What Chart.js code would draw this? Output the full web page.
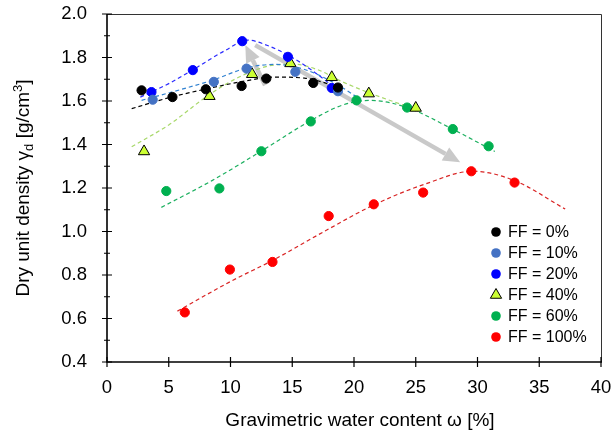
<!DOCTYPE html>
<html>
<head>
<meta charset="utf-8">
<script src="https://cdn.jsdelivr.net/npm/chart.js@4.4.0/dist/chart.umd.min.js"></script>
<style>
  html, body { margin: 0; padding: 0; background: #fff; }
  #wrap { width: 616px; height: 435px; }
</style>
</head>
<body>
<div id="wrap"><canvas id="densityChart" width="616" height="435"></canvas></div>
<script>
// measured points: water content w [%] and dry density [g/cm3]
const ff0W = [2.8, 5.3, 8.0, 10.9, 12.9, 16.7, 18.7];
const ff0D = [1.649, 1.618, 1.654, 1.669, 1.703, 1.683, 1.662];
const ff10W = [3.7, 8.65, 11.3, 15.25, 18.7];
const ff10D = [1.606, 1.688, 1.749, 1.734, 1.645];
const ff20W = [3.6, 6.95, 10.95, 14.65, 18.2];
const ff20D = [1.641, 1.742, 1.875, 1.803, 1.660];
const ff40W = [3.0, 8.3, 11.75, 14.85, 18.2, 21.2, 25.0];
const ff40D = [1.368, 1.622, 1.723, 1.773, 1.709, 1.634, 1.568];
const ff60W = [4.8, 9.1, 12.5, 16.5, 20.2, 24.3, 28.0, 30.9];
const ff60D = [1.186, 1.198, 1.369, 1.506, 1.603, 1.570, 1.471, 1.392];
const ff100W = [6.3, 9.95, 13.4, 17.95, 21.6, 25.6, 29.5, 33.0];
const ff100D = [0.628, 0.825, 0.860, 1.071, 1.125, 1.179, 1.277, 1.225];

// dashed trend curves
const fit0W = [2.0, 5.0, 8.0, 11.0, 13.5, 16.0, 19.0];
const fit0D = [1.565, 1.615, 1.655, 1.690, 1.710, 1.705, 1.660];
const fit10W = [2.8, 5.5, 8.5, 11.5, 13.6, 16.0, 18.5, 20.4];
const fit10D = [1.603, 1.645, 1.695, 1.755, 1.768, 1.745, 1.680, 1.612];
const fit20W = [2.7, 5.0, 7.0, 9.5, 11.4, 13.0, 14.7, 16.5, 18.2];
const fit20D = [1.618, 1.680, 1.745, 1.830, 1.880, 1.855, 1.810, 1.745, 1.672];
const fit40W = [2.0, 5.0, 8.3, 10.7, 13.0, 15.0, 17.0, 19.0, 21.2, 24.4, 25.2];
const fit40D = [1.390, 1.490, 1.630, 1.710, 1.760, 1.770, 1.745, 1.690, 1.638, 1.572, 1.553];
const fit60W = [4.4, 8.5, 12.5, 16.5, 19.0, 21.3, 24.3, 28.0, 31.4];
const fit60D = [1.111, 1.234, 1.370, 1.510, 1.580, 1.603, 1.570, 1.470, 1.368];
const fit100W = [5.7, 10.0, 13.5, 17.9, 21.6, 25.8, 29.6, 33.0, 37.1];
const fit100D = [0.634, 0.770, 0.870, 1.010, 1.122, 1.219, 1.277, 1.234, 1.103];

// grey arrows [w1, d1, w2, d2]
const arrows = [
  [12.8, 1.672, 11.2, 1.857],
  [12.0, 1.857, 28.6, 1.318]
];

const legendLabels = ["FF = 0%", "FF = 10%", "FF = 20%", "FF = 40%", "FF = 60%", "FF = 100%"];
const pointColors = ["#000000", "#4472C4", "#0000FF", "#CCFF33", "#00B050", "#FF0000"];
const lineColors = ["#000000", "#2F80D0", "#2B2BFF", "#A8D86A", "#1DB060", "#D92424"];

function pts(ws, ds) {
  const out = [];
  for (let i = 0; i < ws.length; i++) out.push({ x: ws[i], y: ds[i] });
  return out;
}

const measured = [[ff0W, ff0D], [ff10W, ff10D], [ff20W, ff20D], [ff40W, ff40D], [ff60W, ff60D], [ff100W, ff100D]];
const fits = [[fit0W, fit0D], [fit10W, fit10D], [fit20W, fit20D], [fit40W, fit40D], [fit60W, fit60D], [fit100W, fit100D]];

const datasets = [];
for (let i = 0; i < measured.length; i++) {
  const tri = i === 3;
  datasets.push({
    label: legendLabels[i],
    data: pts(measured[i][0], measured[i][1]),
    pointStyle: tri ? "triangle" : "circle",
    pointRadius: tri ? 6.5 : 4.6,
    pointBackgroundColor: pointColors[i],
    pointBorderColor: tri ? "#000" : pointColors[i],
    pointBorderWidth: 1,
    showLine: false,
    order: 1
  });
}
for (let i = 0; i < fits.length; i++) {
  datasets.push({
    label: "fit",
    data: pts(fits[i][0], fits[i][1]),
    showLine: true,
    borderColor: lineColors[i],
    borderWidth: 1.2,
    borderDash: [4, 3],
    pointRadius: 0,
    cubicInterpolationMode: "monotone",
    order: 5
  });
}

const FONT = "'Liberation Sans', Arial, sans-serif";

function drawArrow(ctx, x1, y1, x2, y2) {
  const ang = Math.atan2(y2 - y1, x2 - x1);
  const head = 17, half = 7.5;
  const bx = x2 - Math.cos(ang) * head, by = y2 - Math.sin(ang) * head;
  ctx.strokeStyle = "#C9C9C9";
  ctx.fillStyle = "#C9C9C9";
  ctx.lineWidth = 4.5;
  ctx.beginPath();
  ctx.moveTo(x1, y1);
  ctx.lineTo(bx, by);
  ctx.stroke();
  ctx.beginPath();
  ctx.moveTo(x2, y2);
  ctx.lineTo(bx + Math.sin(ang) * half, by - Math.cos(ang) * half);
  ctx.lineTo(bx - Math.sin(ang) * half, by + Math.cos(ang) * half);
  ctx.closePath();
  ctx.fill();
}

// scales keep no extra label padding, so the plot box sits where the layout says
function noPad(s) {
  s.paddingTop = 0;
  s.paddingBottom = 0;
  s.paddingLeft = 0;
  s.paddingRight = 0;
}

const framePlugin = {
  id: "frame",
  beforeDatasetsDraw(chart) {
    const ctx = chart.ctx, xs = chart.scales.x, ys = chart.scales.y;
    ctx.save();
    arrows.forEach(a => {
      drawArrow(ctx, xs.getPixelForValue(a[0]), ys.getPixelForValue(a[1]),
        xs.getPixelForValue(a[2]), ys.getPixelForValue(a[3]));
    });
    ctx.restore();
  },
  afterDraw(chart) {
    const ctx = chart.ctx, xs = chart.scales.x, ys = chart.scales.y;
    const a = chart.chartArea;
    ctx.save();
    // box
    ctx.strokeStyle = "#333";
    ctx.lineWidth = 1;
    ctx.beginPath();
    ctx.moveTo(a.left, a.top + 0.5);
    ctx.lineTo(a.right + 0.5, a.top + 0.5);
    ctx.lineTo(a.right + 0.5, a.bottom);
    ctx.stroke();
    ctx.strokeStyle = "#000";
    ctx.lineWidth = 1.6;
    ctx.beginPath();
    ctx.moveTo(a.left, a.top);
    ctx.lineTo(a.left, a.bottom);
    ctx.lineTo(a.right + 1, a.bottom);
    ctx.stroke();
    // ticks crossing the axes
    ctx.lineWidth = 1.2;
    ctx.beginPath();
    xs.ticks.forEach(t => {
      const px = xs.getPixelForValue(t.value);
      ctx.moveTo(px, a.bottom - 5);
      ctx.lineTo(px, a.bottom + 5);
    });
    for (let i = 0; i < ys.ticks.length; i++) {
      const py = ys.getPixelForValue(ys.ticks[i].value);
      ctx.moveTo(a.left - 5, py);
      ctx.lineTo(a.left + 5, py);
      if (i < ys.ticks.length - 1) {
        const pm = ys.getPixelForValue((ys.ticks[i].value + ys.ticks[i + 1].value) / 2);
        ctx.moveTo(a.left - 3, pm);
        ctx.lineTo(a.left + 3, pm);
      }
    }
    ctx.stroke();

    // axis titles
    ctx.fillStyle = "#000";
    ctx.font = "19px " + FONT;
    ctx.textAlign = "center";
    ctx.textBaseline = "alphabetic";
    ctx.fillText("Gravimetric water content \u03C9 [%]", 360, 425.5);

    const parts = [
      ["Dry unit density \u03B3", 19, 0],
      ["d", 13, 4],
      [" [g/cm", 19, 0],
      ["3", 13, -7],
      ["]", 19, 0]
    ];
    let total = 0;
    parts.forEach(p => { ctx.font = p[1] + "px " + FONT; total += ctx.measureText(p[0]).width; });
    ctx.translate(29, (a.top + a.bottom) / 2);
    ctx.rotate(-Math.PI / 2);
    ctx.textAlign = "left";
    let cx = -total / 2;
    parts.forEach(p => {
      ctx.font = p[1] + "px " + FONT;
      ctx.fillText(p[0], cx, p[2]);
      cx += ctx.measureText(p[0]).width;
    });
    ctx.setTransform(1, 0, 0, 1, 0, 0);

    // legend
    ctx.font = "16px " + FONT;
    ctx.textAlign = "left";
    ctx.textBaseline = "middle";
    for (let i = 0; i < legendLabels.length; i++) {
      const ly = 232 + i * 21;
      ctx.fillStyle = pointColors[i];
      ctx.beginPath();
      if (i === 3) {
        const r = 6.5;
        ctx.moveTo(496, ly - r);
        ctx.lineTo(496 + r * 0.866, ly + r / 2);
        ctx.lineTo(496 - r * 0.866, ly + r / 2);
        ctx.closePath();
        ctx.fill();
        ctx.strokeStyle = "#000";
        ctx.lineWidth = 1;
        ctx.stroke();
      } else {
        ctx.arc(496, ly, 4.8, 0, Math.PI * 2);
        ctx.fill();
      }
      ctx.fillStyle = "#000";
      ctx.fillText(legendLabels[i], 508, ly + 1);
    }
    ctx.restore();
  }
};

new Chart(document.getElementById("densityChart"), {
  type: "scatter",
  data: { datasets: datasets },
  options: {
    responsive: false,
    animation: false,
    devicePixelRatio: 1,
    layout: { padding: { left: 0, top: 14, right: 15, bottom: 0 } },
    plugins: { legend: { display: false }, tooltip: { enabled: false } },
    scales: {
      x: {
        type: "linear",
        min: 0,
        max: 40,
        grid: { display: false },
        border: { display: false },
        ticks: { stepSize: 5, color: "#000", font: { family: FONT, size: 18.5 }, padding: 7 },
        afterFit(s) { s.height = 73; noPad(s); }
      },
      y: {
        type: "linear",
        min: 0.4,
        max: 2.0,
        grid: { display: false },
        border: { display: false },
        ticks: {
          stepSize: 0.2, color: "#000", font: { family: FONT, size: 18.5 }, padding: 12,
          callback: v => v.toFixed(1)
        },
        afterFit(s) { s.width = 107; noPad(s); }
      }
    }
  },
  plugins: [framePlugin]
});
</script>
</body>
</html>
